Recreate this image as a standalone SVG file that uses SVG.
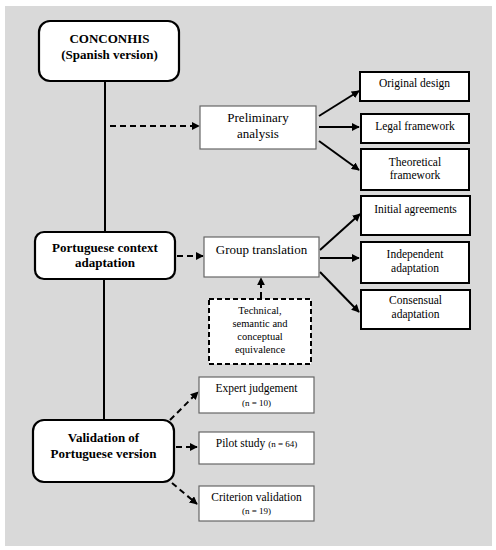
<svg xmlns="http://www.w3.org/2000/svg" width="496" height="550" viewBox="0 0 496 550">
<defs>
<marker id="ah" viewBox="0 0 10 10" refX="9" refY="5" markerWidth="4" markerHeight="4" orient="auto" markerUnits="strokeWidth">
<path d="M0,0 L10,5 L0,10 z" fill="#000"/>
</marker>
<style>
text{fill:#000;text-anchor:middle}
.b{font-weight:bold;font-size:13px}
.m{font-size:13px}
.s{font-size:11.5px}
.t{font-size:10.5px}
.n{font-size:9px}
.main{fill:#fff;stroke:#000;stroke-width:2.2}
.mid{fill:#fff;stroke:#666;stroke-width:1.2}
.side{fill:#fff;stroke:#000;stroke-width:2}
.ln{stroke:#000;stroke-width:2;fill:none}
.ar{stroke:#000;stroke-width:2;fill:none;marker-end:url(#ah)}
.da{stroke:#000;stroke-width:2;fill:none;stroke-dasharray:6,4;marker-end:url(#ah)}
</style>
</defs>
<rect x="5" y="6" width="487" height="540" fill="#d9d9d9"/>
<g id="connectors">
<line class="ln" x1="105" y1="81" x2="105" y2="232"/>
<line class="ln" x1="104" y1="279" x2="104" y2="420"/>
<line class="da" x1="110" y1="126" x2="199" y2="126"/>
<line class="ar" x1="319" y1="116" x2="359" y2="91"/>
<line class="ar" x1="319" y1="127" x2="359" y2="127"/>
<line class="ar" x1="319" y1="141" x2="359" y2="170"/>
<line class="da" x1="177" y1="256" x2="203" y2="256"/>
<line class="ar" x1="320" y1="250" x2="360" y2="214"/>
<line class="ar" x1="320" y1="258" x2="359" y2="258"/>
<line class="ar" x1="320" y1="272" x2="359" y2="312"/>
<line class="da" x1="261" y1="298" x2="261" y2="278"/>
<line class="da" x1="170" y1="420" x2="198" y2="392"/>
<line class="da" x1="176" y1="447" x2="197" y2="447"/>
<line class="da" x1="172" y1="483" x2="197" y2="504"/>
</g>
<g font-family="Liberation Serif, Times New Roman, serif">
<g id="conconhis">
<rect class="main" x="39" y="21" width="140" height="60" rx="11"/>
<text class="b" x="109.5" y="43">CONCONHIS</text>
<text class="b" x="109.5" y="59">(Spanish version)</text>
</g>
<g id="portuguese">
<rect class="main" x="35" y="232" width="140" height="47" rx="9"/>
<text class="b" x="105" y="252">Portuguese context</text>
<text class="b" x="105" y="267">adaptation</text>
</g>
<g id="validation">
<rect class="main" x="33" y="420" width="141" height="62" rx="11"/>
<text class="b" x="103.5" y="442">Validation of</text>
<text class="b" x="103.5" y="458">Portuguese version</text>
</g>
<g id="preliminary">
<rect class="mid" x="200" y="106" width="116" height="43"/>
<text class="m" x="258" y="122">Preliminary</text>
<text class="m" x="258" y="138">analysis</text>
</g>
<g id="original">
<rect class="side" x="360" y="72" width="109" height="29"/>
<text class="s" x="414.5" y="87">Original design</text>
</g>
<g id="legal">
<rect class="side" x="361" y="114" width="108" height="29"/>
<text class="s" x="415" y="130">Legal framework</text>
</g>
<g id="theoretical">
<rect class="side" x="361" y="149" width="108" height="41"/>
<text class="s" x="415" y="166">Theoretical</text>
<text class="s" x="415" y="179">framework</text>
</g>
<g id="group">
<rect class="mid" x="204" y="237" width="115" height="40"/>
<text class="m" x="261.5" y="254">Group translation</text>
</g>
<g id="initial">
<rect class="side" x="361" y="196" width="109" height="39"/>
<text class="s" x="415.5" y="213">Initial agreements</text>
</g>
<g id="independent">
<rect class="side" x="361" y="242" width="108" height="41"/>
<text class="s" x="415" y="258">Independent</text>
<text class="s" x="415" y="272">adaptation</text>
</g>
<g id="consensual">
<rect class="side" x="361" y="290" width="109" height="39"/>
<text class="s" x="415.5" y="304">Consensual</text>
<text class="s" x="415.5" y="318">adaptation</text>
</g>
<g id="technical">
<rect x="209" y="299" width="102" height="65" fill="#fff" stroke="#000" stroke-width="2" stroke-dasharray="5,3"/>
<text class="t" x="260" y="314">Technical,</text>
<text class="t" x="260" y="327">semantic and</text>
<text class="t" x="260" y="340">conceptual</text>
<text class="t" x="260" y="353">equivalence</text>
</g>
<g id="expert">
<rect class="mid" x="199" y="377" width="115" height="36"/>
<text class="s" x="256.5" y="392">Expert judgement</text>
<text class="n" x="256.5" y="406">(n = 10)</text>
</g>
<g id="pilot">
<rect class="mid" x="199" y="432" width="115" height="32"/>
<text class="s" x="256.5" y="447">Pilot study <tspan class="n">(n = 64)</tspan></text>
</g>
<g id="criterion">
<rect class="mid" x="199" y="486" width="115" height="35"/>
<text class="s" x="256.5" y="501">Criterion validation</text>
<text class="n" x="256.5" y="514">(n = 19)</text>
</g>
</g>
</svg>
